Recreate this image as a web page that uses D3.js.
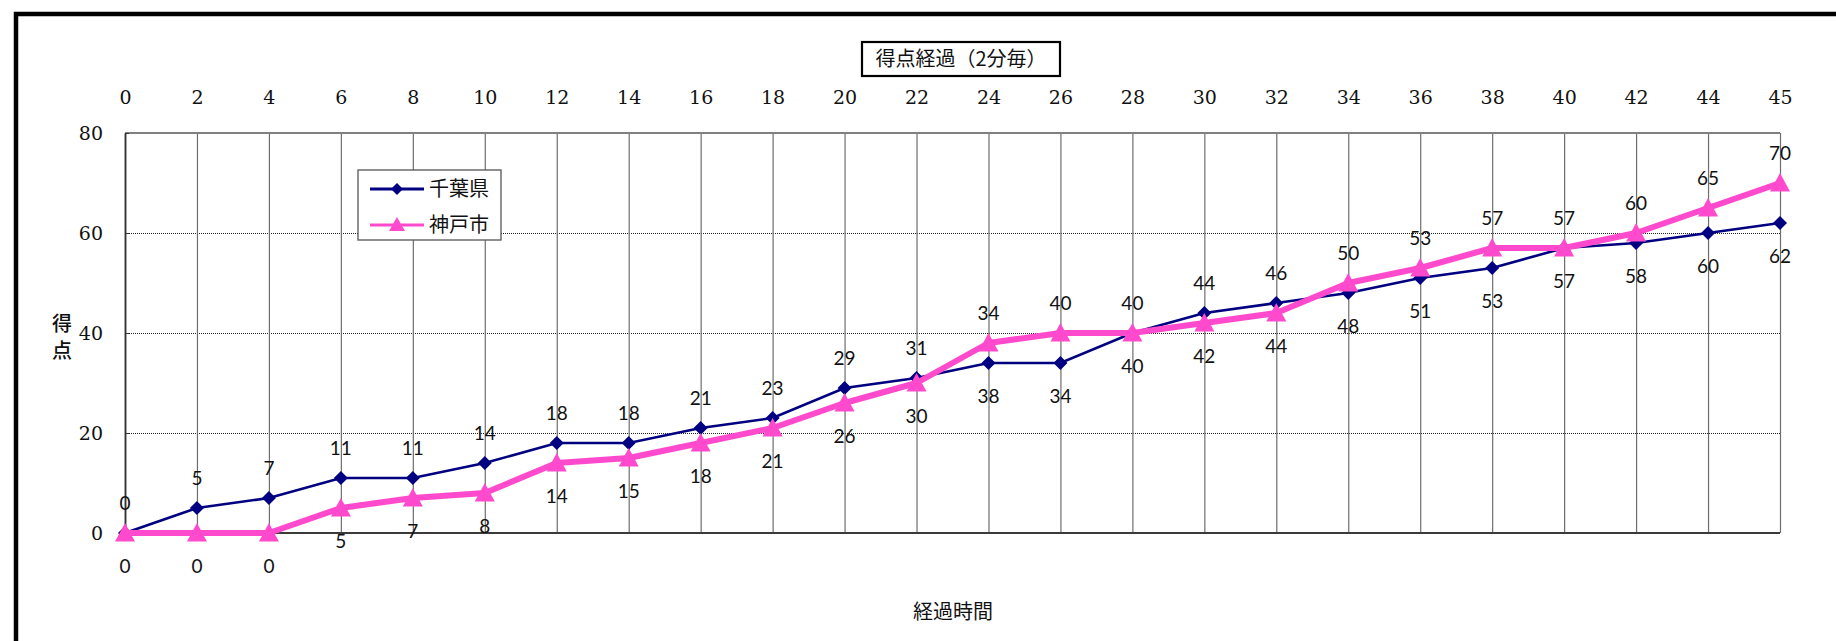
<!DOCTYPE html>
<html><head><meta charset="utf-8">
<script src="https://cdn.jsdelivr.net/npm/d3@7"></script>
<style>
html,body{margin:0;padding:0;background:#fff;}
svg{display:block;}
</style></head>
<body>
<svg id="chart" width="1836" height="641"></svg>
<script>
const categories = ["0","2","4","6","8","10","12","14","16","18","20","22","24","26","28","30","32","34","36","38","40","42","44","45"];
const chiba = [0,5,7,11,11,14,18,18,21,23,29,31,34,34,40,44,46,48,51,53,57,58,60,62];
const kobe  = [0,0,0,5,7,8,14,15,18,21,26,30,38,40,40,42,44,50,53,57,57,60,65,70];
const upperLabels = ["0","5","7","11","11","14","18","18","21","23","29","31","34","40","40","44","46","50","53","57","57","60","65","70"];
const lowerLabels = ["0","0","0","5","7","8","14","15","18","21","26","30","38","34","40","42","44","48","51","53","57","58","60","62"];
const yTicks = [0,20,40,60,80];
const gridTicks = [20,40,60];
const seriesNames = ["千葉県","神戸市"];
const title = "得点経過（2分毎）";
const xTitle = "経過時間";
const yTitle = ["得","点"];

const navy = "#000080", pink = "#ff4acd";
const svg = d3.select("#chart");
const L = 125, R = 1780, T = 133, B = 533;
const x = d3.scalePoint().domain(categories).range([L, R]);
const y = d3.scaleLinear().domain([0, 80]).range([B, T]);
const serif = "'DejaVu Serif', serif";
const jp = "'Noto Sans CJK JP', sans-serif";
const lab = "Lato, 'Noto Sans', sans-serif";

// outer frame
svg.append("rect").attr("x",16).attr("y",14).attr("width",2000).attr("height",1000)
  .attr("fill","none").attr("stroke","#000").attr("stroke-width",4.5);

// horizontal dotted gridlines
svg.append("g").attr("transform",`translate(${L},0)`)
  .call(d3.axisLeft(y).tickValues(gridTicks).tickSize(-(R-L)).tickFormat(""))
  .call(g=>g.select(".domain").remove())
  .call(g=>g.selectAll("line").attr("stroke","#222").attr("stroke-width",1).attr("stroke-dasharray","1,1"));

// vertical category lines
svg.append("g").attr("transform",`translate(0,${B})`)
  .call(d3.axisBottom(x).tickSize(-(B-T)).tickFormat(""))
  .call(g=>g.select(".domain").remove())
  .call(g=>g.selectAll("line").attr("stroke","#6e6e6e").attr("stroke-width",1.2));

// plot top border
svg.append("line").attr("x1",L).attr("x2",R).attr("y1",T).attr("y2",T)
  .attr("stroke","#808080").attr("stroke-width",2.2);
// bottom axis line
svg.append("line").attr("x1",L).attr("x2",R).attr("y1",B).attr("y2",B)
  .attr("stroke","#3a3a3a").attr("stroke-width",2.2);

// left axis
svg.append("g").attr("transform",`translate(${L},0)`)
  .call(d3.axisLeft(y).tickValues(yTicks).tickSizeInner(-4).tickSizeOuter(0).tickPadding(22))
  .call(g=>g.select(".domain").attr("stroke","#333").attr("stroke-width",1.8))
  .call(g=>g.selectAll("line").attr("stroke","#333"))
  .call(g=>g.selectAll("text").attr("font-family",serif).attr("font-size",19).attr("fill","#111"));

// top category labels
svg.append("g").attr("transform",`translate(0,${T})`)
  .call(d3.axisTop(x).tickSize(0).tickPadding(29))
  .call(g=>g.select(".domain").remove())
  .call(g=>g.selectAll("text").attr("font-family",serif).attr("font-size",19).attr("fill","#111"));

// lines
const line = d3.line().x((d,i)=>x(categories[i])).y(d=>y(d));
svg.append("path").datum(chiba).attr("d",line).attr("fill","none")
  .attr("stroke",navy).attr("stroke-width",2.6);
const diamond = "M0,-7L7,0L0,7L-7,0Z";
svg.append("g").selectAll("path").data(chiba).join("path")
  .attr("d",diamond).attr("fill",navy)
  .attr("transform",(d,i)=>`translate(${x(categories[i])},${y(d)})`);

svg.append("path").datum(kobe).attr("d",line).attr("fill","none")
  .attr("stroke",pink).attr("stroke-width",6).attr("stroke-linejoin","round");
const tri = "M0,-10L10,8.5L-10,8.5Z";
svg.append("g").selectAll("path").data(kobe).join("path")
  .attr("d",tri).attr("fill",pink)
  .attr("transform",(d,i)=>`translate(${x(categories[i])},${y(d)})`);

// data labels
const lblG = svg.append("g").attr("font-family",lab).attr("font-size",19).attr("fill","#111")
  .attr("text-anchor","middle");
lblG.selectAll("text.up").data(upperLabels).join("text").attr("class","up")
  .attr("x",(d,i)=>x(categories[i]))
  .attr("y",(d,i)=>y(Math.max(chiba[i],kobe[i]))-30)
  .attr("dy","0.35em").text(d=>d);
lblG.selectAll("text.lo").data(lowerLabels).join("text").attr("class","lo")
  .attr("x",(d,i)=>x(categories[i]))
  .attr("y",(d,i)=>y(Math.min(chiba[i],kobe[i]))+33)
  .attr("dy","0.35em").text(d=>d);

// legend
const lg = svg.append("g").attr("transform","translate(358,170)");
lg.append("rect").attr("width",143).attr("height",70).attr("fill","#fff")
  .attr("stroke","#555").attr("stroke-width",1.3);
const rows = [{c:navy,w:3,m:"M0,-6L6,0L0,6L-6,0Z"},{c:pink,w:3,m:"M0,-8L8,6L-8,6Z"}];
rows.forEach((r,i)=>{
  const yy = 19 + i*36;
  lg.append("line").attr("x1",12).attr("x2",66).attr("y1",yy).attr("y2",yy)
    .attr("stroke",r.c).attr("stroke-width",r.w);
  lg.append("path").attr("d",r.m).attr("fill",r.c).attr("transform",`translate(39,${yy})`);
  lg.append("text").attr("x",71).attr("y",yy).attr("dy","0.36em")
    .attr("font-family",jp).attr("font-size",20).attr("fill","#111").text(seriesNames[i]);
});

// title box
const tg = svg.append("g");
tg.append("rect").attr("x",862).attr("y",42).attr("width",198).attr("height",34)
  .attr("fill","#fff").attr("stroke","#000").attr("stroke-width",2.2);
tg.append("text").attr("x",961).attr("y",59).attr("dy","0.36em").attr("text-anchor","middle")
  .attr("font-family",jp).attr("font-size",20).attr("fill","#111").text(title);

// axis titles
svg.append("text").attr("x",953).attr("y",612).attr("dy","0.36em").attr("text-anchor","middle")
  .attr("font-family",jp).attr("font-size",20).attr("fill","#111").text(xTitle);
svg.append("g").selectAll("text").data(yTitle).join("text")
  .attr("x",62).attr("y",(d,i)=>324+i*27).attr("dy","0.36em").attr("text-anchor","middle")
  .attr("font-family",jp).attr("font-size",20).attr("font-weight",500).attr("fill","#111").text(d=>d);
</script>
</body></html>
